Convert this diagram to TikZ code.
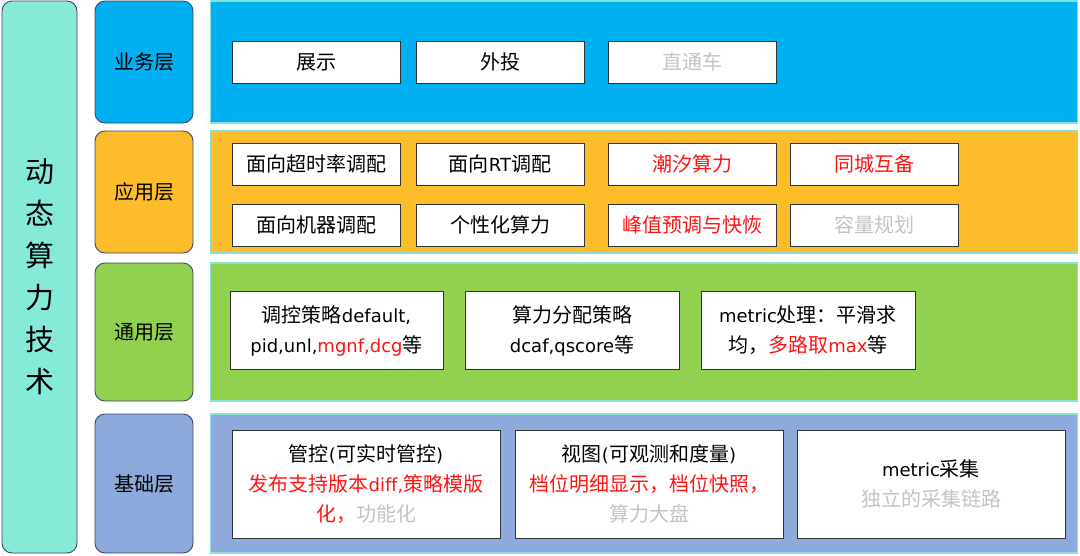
\documentclass[tikz,border=0pt]{standalone}
\usepackage{fontspec}
\setmainfont{Noto Sans CJK SC}
\newfontfamily\latinfont{DejaVu Sans}[Scale=0.9]
\usepackage{xcolor}
\usetikzlibrary{positioning}
\definecolor{mint}{HTML}{86EAD9}
\definecolor{bizblue}{HTML}{00B0F0}
\definecolor{appgold}{HTML}{FDBD2B}
\definecolor{gengreen}{HTML}{92D050}
\definecolor{baseblue}{HTML}{8EA9DB}
\definecolor{edgedark}{HTML}{3B4468}
\definecolor{panelline}{HTML}{86E3DA}
\definecolor{hotred}{HTML}{FF1414}
\definecolor{softgray}{HTML}{C4C4C4}
\newcommand{\en}[1]{{\latinfont #1}}

\begin{document}
\begin{tikzpicture}[
        x=1pt, y=-1pt,
        layer/.style={draw=edgedark, line width=0.9pt, rounded corners=10pt, minimum width=98pt, outer sep=0pt, font=\fontsize{20}{24}\selectfont},
        panel/.style={draw=panelline, line width=1.2pt, minimum width=867pt, inner sep=0pt, outer sep=0pt},
        item/.style={draw=black!80, line width=0.9pt, fill=white, minimum width=168pt, minimum height=42pt, inner sep=0pt, outer sep=0pt, font=\fontsize{20}{24}\selectfont},
        card/.style={draw=black!80, line width=0.9pt, fill=white, align=center, inner sep=0pt, outer sep=0pt, font=\fontsize{20}{30}\selectfont},
        hot/.style={text=hotred},
        dim/.style={text=softgray}
    ]

    \useasboundingbox (0,0) rectangle (1080,555);

    % --- Title column ---
    \node[draw=edgedark, line width=0.9pt, fill=mint, rounded corners=10pt, minimum width=75pt, minimum height=552pt, align=center, font=\fontsize{29}{42}\selectfont] (title) at (39.5,277) {动\\态\\算\\力\\技\\术};

    % --- Layer labels ---
    \node[layer, fill=bizblue, minimum height=122pt] (biz) at (144,62) {业务层};
    \node[layer, fill=appgold, minimum height=122pt] (app) at (144,192) {应用层};
    \node[layer, fill=gengreen, minimum height=138pt] (gen) at (144,332) {通用层};
    \node[layer, fill=baseblue, minimum height=139pt] (base) at (144,483.5) {基础层};

    % --- Panels ---
    \node[panel, fill=bizblue, minimum height=122pt] (bizpanel) at (644,62) {};
    \node[panel, fill=appgold, minimum height=122pt] (apppanel) at (644,192) {};
    \node[panel, fill=gengreen, minimum height=138pt] (genpanel) at (644,332) {};
    \node[panel, fill=baseblue, minimum height=139pt] (basepanel) at (644,483.5) {};

    % --- Business layer ---
    \node[item] (show) at (316,62) {展示};
    \node[item, right=16pt of show] (outer) {外投};
    \node[item, dim, right=24pt of outer] (direct) {直通车};

    % --- Application layer ---
    \node[item] (timeout) at (316,164) {面向超时率调配};
    \node[item, right=16pt of timeout] (rt) {面向\en{RT}调配};
    \node[item, hot, right=24pt of rt] (tide) {潮汐算力};
    \node[item, hot, right=14pt of tide] (city) {同城互备};
    \node[item] (machine) at (316,225) {面向机器调配};
    \node[item, right=16pt of machine] (custom) {个性化算力};
    \node[item, hot, right=24pt of custom] (peak) {峰值预调与快恢};
    \node[item, dim, right=14pt of peak] (plan) {容量规划};

    % --- General layer ---
    \node[card, minimum width=213pt, minimum height=78pt] (policy) at (336.5,330.5) {调控策略\en{default,}\\\en{pid,unl,}{\color{hotred}\en{mgnf,dcg}}等};
    \node[card, minimum width=214pt, minimum height=78pt, right=22pt of policy] (alloc) {算力分配策略\\\en{dcaf,qscore}等};
    \node[card, minimum width=214pt, minimum height=78pt, right=22pt of alloc] (metricproc) {\en{metric}处理：平滑求\\均，{\color{hotred}多路取\en{max}}等};

    % --- Base layer ---
    \node[card, minimum width=268pt, minimum height=108pt] (control) at (366,484) {管控\en{(}可实时管控\en{)}\\{\color{hotred}发布支持版本\en{diff,}策略模版}\\{\color{hotred}化，}{\color{softgray}功能化}};
    \node[card, minimum width=268pt, minimum height=108pt, right=15pt of control] (view) {视图\en{(}可观测和度量\en{)}\\{\color{hotred}档位明细显示，档位快照，}\\{\color{softgray}算力大盘}};
    \node[card, minimum width=268pt, minimum height=108pt, right=14pt of view] (collect) {\en{metric}采集\\{\color{softgray}独立的采集链路}};

\end{tikzpicture}
\end{document}
